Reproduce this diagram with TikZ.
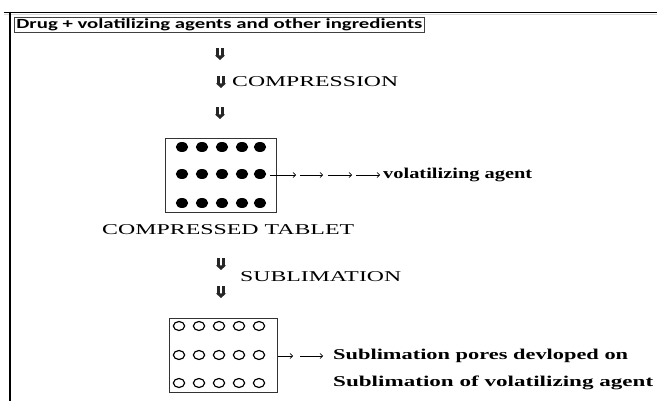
\documentclass[tikz,border=0pt]{standalone}
\usepackage{fontspec}
\usepackage{graphicx}
\setmainfont{Liberation Serif}
\newfontfamily\calib{Carlito}
\usetikzlibrary{arrows.meta}
\usetikzlibrary{positioning}
\tikzset{flow/.style = {-{To[length=3.2pt,width=5.5pt]}, line width=0.75pt}}
\tikzset{lbl/.style = {inner sep=0pt, anchor=west}}
\tikzset{tabbox/.style = {draw=black!80, line width=0.9pt, inner sep=0pt}}
\tikzset{dn/.style = {minimum width=10pt, minimum height=12pt, inner sep=0pt,
	path picture={
		\fill [black!85] ([xshift=-3.6pt]path picture bounding box.north) rectangle ([xshift=-0.8pt,yshift=-8pt]path picture bounding box.north);
		\fill [black!85] ([xshift=0.8pt]path picture bounding box.north) rectangle ([xshift=3.6pt,yshift=-8pt]path picture bounding box.north);
		\fill [black!85] ([xshift=-5pt,yshift=-7.5pt]path picture bounding box.north) -- ([xshift=5pt,yshift=-7.5pt]path picture bounding box.north) -- (path picture bounding box.south) -- cycle;
	}}}
\newcommand{\fitto}[2]{\resizebox{#1}{\height}{#2}}
\newcommand{\serif}[1]{\fontsize{15}{15}\selectfont #1}

\begin{document}
\begin{tikzpicture}[x=1pt, y=-1pt]
			\useasboundingbox (0,0) rectangle (657,401);
			\draw [line width=1.2pt] (4,12.3) to (657,12.3);
			\draw [black!15, line width=1pt] (4,14.6) to (657,14.6);
			\draw [line width=1.2pt] (10,12) to (10,401);
			\node [draw=black!75, line width=0.8pt, anchor=north west, inner xsep=2pt, inner ysep=1pt, text height=10pt, text depth=3pt] (0) at (14,17) {\fitto{406pt}{\calib\fontsize{14}{14}\selectfont\bfseries Drug + volatilizing agents and other ingredients}};
			\node [dn] (1) at (220,54) {};
			\node [dn] (2) at (221,82) {};
			\node [lbl] (3) at (232,82) {\fitto{166pt}{\serif{COMPRESSION}}};
			\node [dn] (4) at (220,113) {};
			\node [tabbox, minimum width=111pt, minimum height=74pt] (5) at (220.5,175) {};
			\foreach \y in {147,174,203}
				\foreach \x in {182,202,222,242,260}
					\fill (\x,\y) ellipse [x radius=6.2pt, y radius=5pt];
			\node [lbl] (6) at (383,175) {\fitto{149pt}{\serif{\bfseries volatilizing agent}}};
			\foreach \i/\s/\e in {1/270/296, 2/300/323, 3/328/352, 4/356/380} {
				\coordinate (a\i) at (\s,175);
				\coordinate (b\i) at (\e,175);
				\draw [flow] (a\i) to (b\i);
			}
			\node [lbl] (7) at (102,230) {\fitto{252pt}{\serif{COMPRESSED TABLET}}};
			\node [dn] (8) at (221,264) {};
			\node [lbl] (9) at (240,277) {\fitto{161pt}{\serif{SUBLIMATION}}};
			\node [dn] (10) at (221,292) {};
			\node [tabbox, minimum width=108pt, minimum height=74pt] (11) at (223,355) {};
			\foreach \y in {326,355,383}
				\foreach \x in {179,199,219,239,259}
					\draw [line width=1.2pt] (\x,\y) ellipse [x radius=5.6pt, y radius=4.5pt];
			\foreach \i/\s/\e in {1/278/293, 2/300/323} {
				\coordinate (c\i) at (\s,356);
				\coordinate (d\i) at (\e,356);
				\draw [flow] (c\i) to (d\i);
			}
			\node [lbl] (12) at (333,356) {\fitto{295pt}{\serif{\bfseries Sublimation pores devloped on}}};
			\node [lbl] (13) at (333,383) {\fitto{320pt}{\serif{\bfseries Sublimation of volatilizing agent}}};
		\end{tikzpicture}
\end{document}
